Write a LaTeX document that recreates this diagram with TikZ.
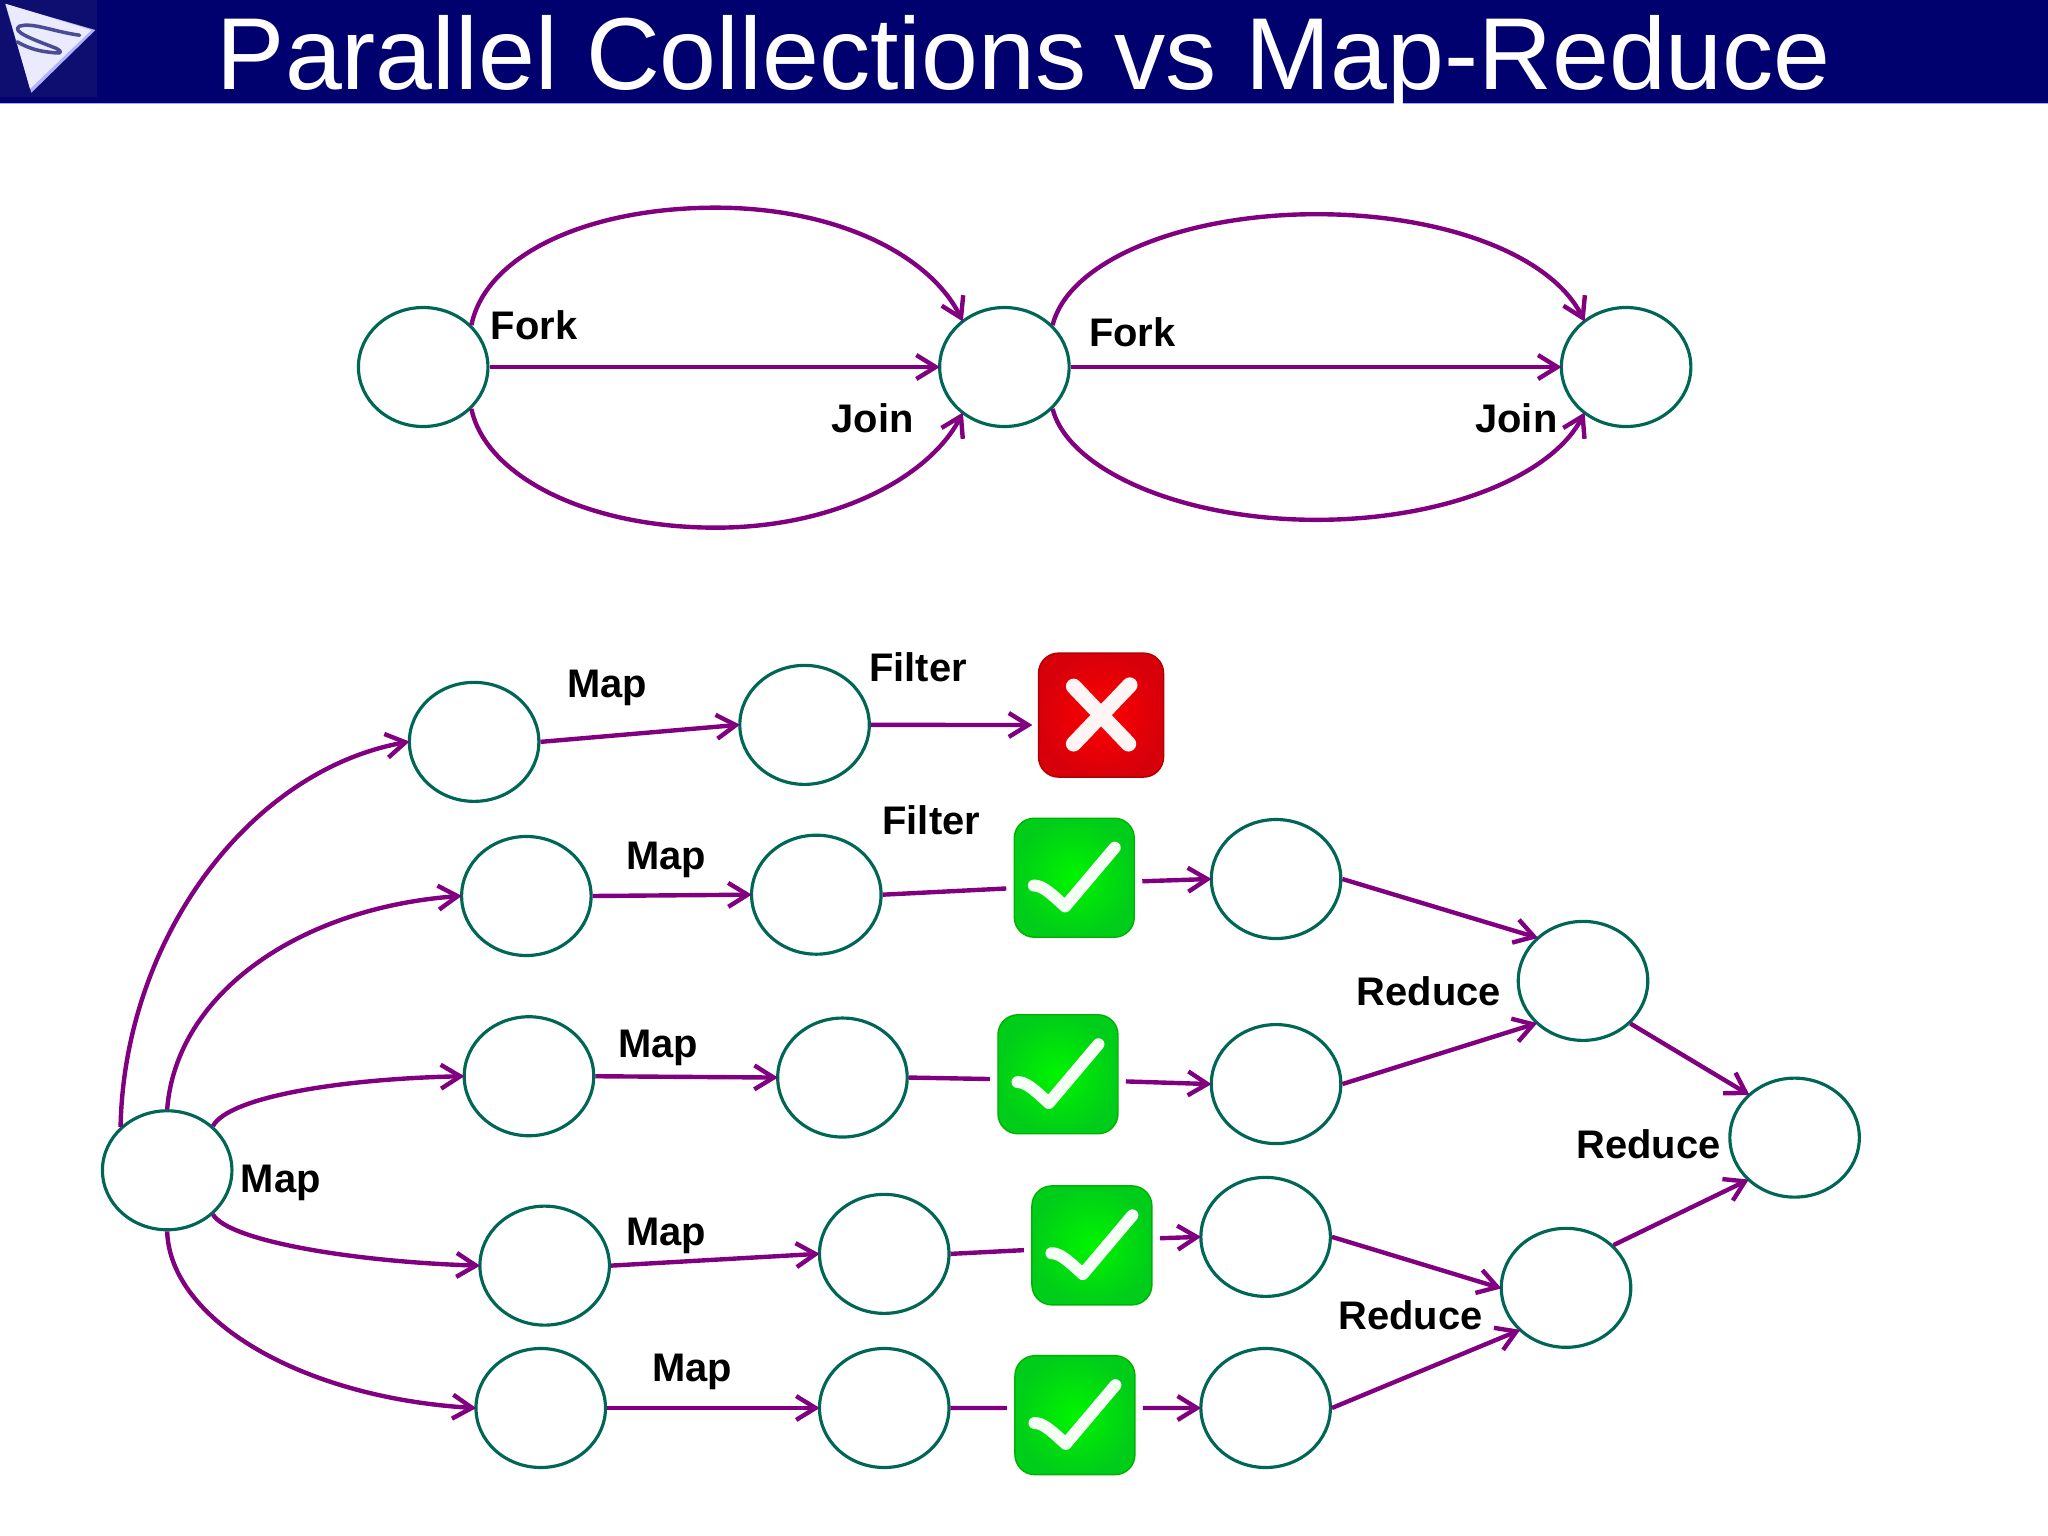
\documentclass[tikz,border=0pt]{standalone}
\usepackage{fontspec}
\setmainfont{Liberation Sans}
\usetikzlibrary{arrows.meta,shapes.geometric}
\definecolor{navy}{RGB}{0,0,110}
\definecolor{logobg}{RGB}{14,14,112}
\definecolor{conn}{RGB}{128,0,128}
\definecolor{ring}{RGB}{0,102,85}
\tikzset{
  x=0.0130612cm,y=-0.0130612cm,
  state/.style={ellipse,draw=ring,line width=0.9pt,fill=white,minimum width=1.295cm,minimum height=1.19cm,inner sep=0pt},
  link/.style={draw=conn,line width=1.25pt,shorten >=-0.5pt,-{Straight Barb[length=5.5pt,width=6.8pt,line width=1.25pt]}},
  plainlink/.style={draw=conn,line width=1.25pt},
  lbl/.style={font=\bfseries\fontsize{11.35}{13}\selectfont,text=black,inner sep=0pt},
  okbox/.style={rectangle,rounded corners=0.2cm,minimum width=1.2cm,minimum height=1.19cm,inner sep=0pt,outer sep=0.08cm,draw=green!70!black,line width=0.4pt,inner color={rgb,255:red,0;green,245;blue,0},outer color={rgb,255:red,0;green,205;blue,25}},
  badbox/.style={rectangle,rounded corners=0.2cm,minimum width=1.25cm,minimum height=1.24cm,inner sep=0pt,outer sep=0.08cm,draw=red!70!black,line width=0.4pt,inner color={rgb,255:red,255;green,0;blue,0},outer color={rgb,255:red,215;green,0;blue,10}},
  tick/.pic={\draw[white!96!green,line width=3.4pt,line cap=round,line join=round] (-31,6) .. controls (-25,6) and (-20,10) .. (-7,22) -- (31,-23);},
  cross/.pic={\draw[white!96!red,line width=4.4pt,line cap=round] (-21,-22) -- (21,22) (22,-23) -- (-21,22);}
}
\begin{document}
\begin{tikzpicture}
\useasboundingbox (0,0) rectangle (1568,1176);
% header
\fill[navy] (0,0) rectangle (1568,78.5);
\fill[logobg] (0,0) rectangle (74,74);
\fill[blue!35!white] (0,78.5) rectangle (1568,79.5);
\fill[blue!30!white] (4,3) -- (73,23) -- (24,71) -- cycle;
\fill[blue!8!white] (4.5,3) -- (70,23) -- (23,68) -- cycle;
\draw[blue!40!black!70,line width=1pt,line cap=round,line join=round] (61,27) .. controls (40,24) and (25,17) .. (15,20) .. controls (8,24) and (25,30) .. (43,37) .. controls (50,41) and (45,41) .. (38,40) .. controls (28,39) and (20,36) .. (13,32);
\node[font=\fontsize{29.1}{34}\selectfont,text=white,inner sep=0pt] (title) at (784,48) {Parallel Collections vs Map-Reduce};
% top diagram
\node[state] (a1) at (324,281) {};
\node[state] (a2) at (769,281) {};
\node[state] (a3) at (1245,281) {};
\draw[link] (a1.east) -- (a2.west);
\draw[link] (a2.east) -- (a3.west);
\draw[link] (a1.41) .. controls (372,195) and (450,159) .. (548,159) .. controls (640,159) and (712,195) .. (a2.132);
\draw[link] (a1.-41) .. controls (372,365) and (450,404) .. (548,404) .. controls (640,404) and (712,365) .. (a2.228);
\draw[link] (a2.41) .. controls (818,200) and (905,164) .. (1008,164) .. controls (1105,164) and (1188,195) .. (a3.132);
\draw[link] (a2.-41) .. controls (818,360) and (905,398) .. (1008,398) .. controls (1105,398) and (1188,365) .. (a3.228);
\node[lbl] (l1) at (409,249) {Fork};
\node[lbl] (l2) at (668,320) {Join};
\node[lbl] (l3) at (867,254) {Fork};
\node[lbl] (l4) at (1161,320) {Join};
% bottom diagram nodes
\node[state] (s) at (128,896) {};
\node[state] (p1) at (363,568) {};
\node[state] (b1) at (616,555) {};
\node[badbox] (x1) at (843,547.5) {};
\pic at (x1.center) {cross};
\node[state] (p2) at (403,686) {};
\node[state] (b2) at (625,685) {};
\node[okbox] (c2) at (822.5,672) {};
\pic at (c2.center) {tick};
\node[state] (q2) at (977,673) {};
\node[state] (p3) at (405,824) {};
\node[state] (b3) at (645,825) {};
\node[okbox] (c3) at (810,822.5) {};
\pic at (c3.center) {tick};
\node[state] (q3) at (977,830) {};
\node[state] (p4) at (417,969) {};
\node[state] (b4) at (677,960) {};
\node[okbox] (c4) at (836,953.5) {};
\pic at (c4.center) {tick};
\node[state] (q4) at (969,947) {};
\node[state] (p5) at (414,1078) {};
\node[state] (b5) at (677,1078) {};
\node[okbox] (c5) at (823,1083.5) {};
\pic at (c5.center) {tick};
\node[state] (q5) at (969,1078) {};
\node[state] (r1) at (1212,751) {};
\node[state] (r2) at (1199,986) {};
\node[state] (r3) at (1374,871) {};
% curves from source
\draw[link] (s.137) .. controls (95,720) and (190,590) .. (p1.west);
\draw[link] (s.north) .. controls (135,760) and (230,695) .. (p2.west);
\draw[link] (s.44) .. controls (175,840) and (260,826) .. (p3.west);
\draw[link] (s.-44) .. controls (175,950) and (270,966) .. (p4.west);
\draw[link] (s.south) .. controls (130,1010) and (230,1070) .. (p5.west);
% rows
\draw[link] (p1.east) -- (b1.west);
\draw[link] (b1.east) -- (x1.188);
\draw[link] (p2.east) -- (b2.west);
\draw[plainlink] (b2.east) -- (c2.189);
\draw[link] (c2.-3) -- (q2.west);
\draw[link] (p3.east) -- (b3.west);
\draw[plainlink] (b3.east) -- (c3.184);
\draw[link] (c3.-6) -- (q3.west);
\draw[link] (p4.east) -- (b4.west);
\draw[plainlink] (b4.east) -- (c4.184);
\draw[link] (c4.6) -- (q4.west);
\draw[link] (p5.east) -- (b5.west);
\draw[plainlink] (b5.east) -- (c5.174);
\draw[link] (c5.6) -- (q5.west);
% reduce
\draw[link] (q2.east) -- (r1.137);
\draw[link] (q3.east) -- (r1.222);
\draw[link] (r1.-42) -- (r3.137);
\draw[link] (q4.east) -- (r2.west);
\draw[link] (q5.east) -- (r2.222);
\draw[link] (r2.42) -- (r3.222);
% labels
\node[lbl] (m0) at (215,906) {Map};
\node[lbl] (m1) at (465,527) {Map};
\node[lbl] (f1) at (703,511) {Filter};
\node[lbl] (m2) at (510,658) {Map};
\node[lbl] (f2) at (713,628) {Filter};
\node[lbl] (m3) at (504,802) {Map};
\node[lbl] (m4) at (510,946) {Map};
\node[lbl] (m5) at (530,1050) {Map};
\node[lbl] (d1) at (1094,759) {Reduce};
\node[lbl] (d2) at (1262,876) {Reduce};
\node[lbl] (d3) at (1080,1007) {Reduce};
\end{tikzpicture}
\end{document}
